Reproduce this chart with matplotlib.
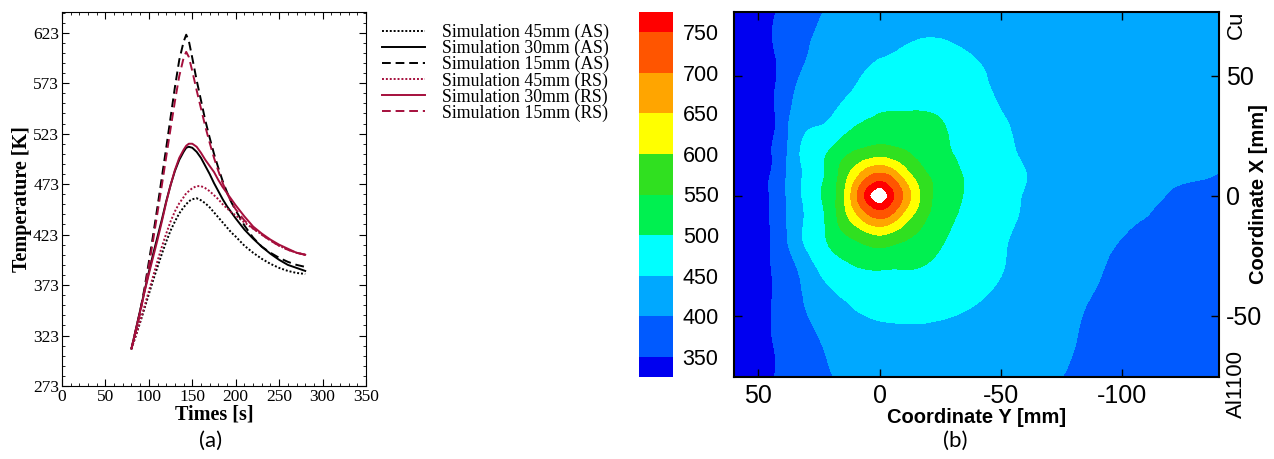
import numpy as np
import matplotlib.pyplot as plt
import matplotlib.tri as mtri
from matplotlib.ticker import FixedLocator, AutoMinorLocator

plt.rcParams['axes.unicode_minus'] = False

# ---------------- (a) thermal cycles ----------------
time_s = [80, 85, 90, 95, 100, 105, 110, 115, 120, 125, 130, 135, 140, 143, 146, 150,
          155, 160, 165, 170, 175, 180, 185, 190, 195, 200, 210, 220, 230, 240, 250,
          260, 270, 280]

sim45_as = [310, 323, 336, 350, 364, 378, 391, 404, 416, 427, 436, 444, 450, 453, 456, 458,
            459, 457, 454, 450, 445, 440, 435, 430, 425, 421, 412, 405, 399, 394, 390,
            387, 385, 384]
sim30_as = [310, 329, 348, 367, 386, 404, 421, 438, 456, 472, 486, 497, 505, 509, 510, 509,
            505, 499, 491, 483, 474, 466, 458, 451, 445, 439, 428, 419, 411, 404, 398,
            393, 390, 387]
sim15_as = [310, 328, 347, 370, 396, 423, 451, 480, 509, 539, 569, 596, 614, 621, 615, 598,
            576, 556, 536, 519, 503, 489, 476, 465, 455, 447, 432, 420, 411, 405, 400,
            396, 393, 391]
sim45_rs = [310, 323, 337, 352, 367, 382, 397, 411, 424, 436, 446, 454, 460, 464, 466, 469,
            471, 471, 469, 466, 462, 458, 453, 449, 445, 442, 435, 429, 423, 417, 412,
            408, 405, 403]
sim30_rs = [310, 329, 347, 366, 384, 401, 418, 436, 455, 472, 487, 499, 507, 511, 513, 513,
            510, 504, 497, 491, 485, 477, 470, 464, 458, 452, 441, 431, 424, 418, 413,
            409, 405, 403]
sim15_rs = [310, 327, 345, 368, 392, 418, 445, 472, 500, 528, 555, 580, 598, 604, 599, 585,
            566, 548, 530, 514, 499, 486, 474, 464, 455, 448, 437, 429, 423, 417, 412,
            408, 405, 403]

temp_ticks = [273, 323, 373, 423, 473, 523, 573, 623]

# ---------------- (b) temperature field ----------------
coord_y = [60, 48, 42, 34, 24, 15, 8, 0, -8, -15, -24, -36, -50, -65, -85, -105, -125, -140]
coord_x = [76, 60, 44, 30, 18, 8, 0, -8, -18, -30, -44, -60, -76]
temp_field = [
    [335, 340, 352, 375, 399, 415, 425, 432, 436, 438, 440, 440, 436, 430, 422, 416, 412, 410],
    [335, 340, 354, 385, 412, 428, 438, 445, 451, 455, 456, 450, 440, 430, 421, 415, 411, 409],
    [335, 340, 355, 405, 428, 443, 456, 474, 476, 478, 478, 470, 443, 432, 423, 417, 413, 411],
    [335, 340, 356, 428, 448, 478, 500, 512, 514, 512, 504, 482, 455, 437, 425, 418, 414, 412],
    [335, 340, 365, 440, 488, 535, 560, 577, 562, 540, 512, 490, 462, 440, 428, 418, 410, 405],
    [335, 340, 370, 436, 492, 575, 662, 722, 662, 588, 533, 496, 467, 445, 428, 415, 405, 398],
    [335, 340, 372, 436, 500, 591, 722, 790, 722, 620, 537, 496, 465, 442, 427, 412, 393, 388],
    [335, 340, 370, 432, 490, 580, 662, 722, 662, 590, 528, 490, 462, 440, 422, 404, 392, 386],
    [335, 340, 368, 433, 490, 535, 560, 582, 562, 540, 510, 480, 455, 435, 413, 396, 385, 380],
    [335, 340, 360, 400, 460, 488, 500, 504, 502, 501, 488, 472, 452, 432, 408, 390, 380, 376],
    [335, 340, 358, 388, 428, 448, 457, 462, 464, 465, 462, 455, 440, 422, 401, 385, 376, 372],
    [335, 341, 355, 372, 402, 428, 436, 440, 441, 441, 439, 434, 425, 413, 397, 382, 373, 368],
    [335, 342, 353, 366, 388, 408, 420, 425, 425, 424, 422, 418, 412, 405, 394, 380, 370, 364],
]
levels = [325, 350, 400, 450, 500, 550, 600, 650, 700, 750, 775]
level_colors = ['#0000F0', '#005AFF', '#00A8FF', '#00FFFF', '#00F050', '#30E020',
                '#FFFF00', '#FFA500', '#FF5500', '#FF0000']
cbar_ticks = [350, 400, 450, 500, 550, 600, 650, 700, 750]

W, H = 1274, 459
fig = plt.figure(figsize=(W / 100, H / 100), dpi=100)

# ---- panel (a)
serif = 'Liberation Serif'
red = '#A50F3C'
ax1 = fig.add_axes([62 / W, 1 - 386 / H, (366 - 62) / W, (386 - 12) / H])
dot = (0, (1, 1))
dash = (0, (4.5, 2.5))
ax1.plot(time_s, sim45_as, color='black', lw=1.4, ls=dot, label='Simulation 45mm (AS)')
ax1.plot(time_s, sim30_as, color='black', lw=1.4, ls='-', label='Simulation 30mm (AS)')
ax1.plot(time_s, sim15_as, color='black', lw=1.4, ls=dash, label='Simulation 15mm (AS)')
ax1.plot(time_s, sim45_rs, color=red, lw=1.4, ls=dot, label='Simulation 45mm (RS)')
ax1.plot(time_s, sim30_rs, color=red, lw=1.4, ls='-', label='Simulation 30mm (RS)')
ax1.plot(time_s, sim15_rs, color=red, lw=1.4, ls=dash, label='Simulation 15mm (RS)')

ax1.set_xlim(0, 350)
ax1.set_ylim(273, 643.5)
ax1.xaxis.set_major_locator(FixedLocator([0, 50, 100, 150, 200, 250, 300, 350]))
ax1.yaxis.set_major_locator(FixedLocator(temp_ticks))
ax1.xaxis.set_minor_locator(AutoMinorLocator(5))
ax1.yaxis.set_minor_locator(AutoMinorLocator(5))
ax1.tick_params(which='both', direction='in', top=True, right=True, labelsize=12.5, pad=2)
ax1.tick_params(which='major', length=5)
ax1.tick_params(which='minor', length=2.5)
for lab in ax1.get_xticklabels() + ax1.get_yticklabels():
    lab.set_family(serif)
ax1.set_xlabel('Times [s]', family=serif, fontweight='bold', fontsize=14.5, labelpad=0)
ax1.set_ylabel('Temperature [K]', family=serif, fontweight='bold', fontsize=14.5, labelpad=1)

fig.legend(*ax1.get_legend_handles_labels(), loc='upper left',
           bbox_to_anchor=(382 / W, 1 - 24 / H), frameon=False, borderpad=0,
           borderaxespad=0, handlelength=2.4, handletextpad=1.0, labelspacing=-0.07,
           prop={'family': serif, 'size': 12.8})

fig.text(211 / W, 1 - 441 / H, '(a)', family='Lato', fontsize=16, ha='center', va='center')

# ---- panel (b)
sans = 'Liberation Sans'
ax2 = fig.add_axes([734 / W, 1 - 377 / H, (1219 - 734) / W, (377 - 12) / H])
yy, xx = np.meshgrid(coord_y, coord_x)
tri = mtri.Triangulation(yy.ravel(), xx.ravel())
z = np.array(temp_field, dtype=float).ravel()
interp = mtri.CubicTriInterpolator(tri, z, kind='min_E')
refiner = mtri.UniformTriRefiner(tri)
tri_f, temp_f = refiner.refine_field(z, triinterpolator=interp, subdiv=3)
cs = ax2.tricontourf(tri_f, temp_f, levels=levels, colors=level_colors)
ax2.set_xlim(60, -140)
ax2.set_ylim(-75.5, 76.5)
ax2.set_xticks([50, 0, -50, -100])
ax2.set_yticks([50, 0, -50])
ax2.yaxis.tick_right()
ax2.tick_params(direction='in', top=True, left=True, right=True, length=6, width=1,
                labelsize=18, pad=5)
for lab in ax2.get_xticklabels() + ax2.get_yticklabels():
    lab.set_family(sans)
for s in ax2.spines.values():
    s.set_linewidth(1.5)
ax2.set_xlabel('Coordinate Y [mm]', family=sans, fontweight='bold', fontsize=14.5)
ax2.xaxis.set_label_coords(0.5, -0.085)
ax2.set_ylabel('Coordinate X [mm]', family=sans, fontweight='bold', fontsize=14.5)
ax2.yaxis.set_label_position('right')
ax2.yaxis.set_label_coords(1.062, 0.5)
ax2.text(1.035, 0.965, 'Cu', transform=ax2.transAxes, family=sans, fontsize=16,
         rotation=90, ha='center', va='center')
ax2.text(1.035, -0.018, 'Al1100', transform=ax2.transAxes, family=sans, fontsize=16,
         rotation=90, ha='center', va='center')

cax = fig.add_axes([639 / W, 1 - 377 / H, 34 / W, (377 - 12) / H])
cb = fig.colorbar(cs, cax=cax, spacing='proportional', ticks=cbar_ticks)
cb.outline.set_visible(False)
cax.tick_params(length=0, labelsize=15.5, pad=7)
for lab in cax.get_yticklabels():
    lab.set_family(sans)

fig.text(955 / W, 1 - 441 / H, '(b)', family='Lato', fontsize=16, ha='center', va='center')

fig.savefig('out.png', dpi=100)
